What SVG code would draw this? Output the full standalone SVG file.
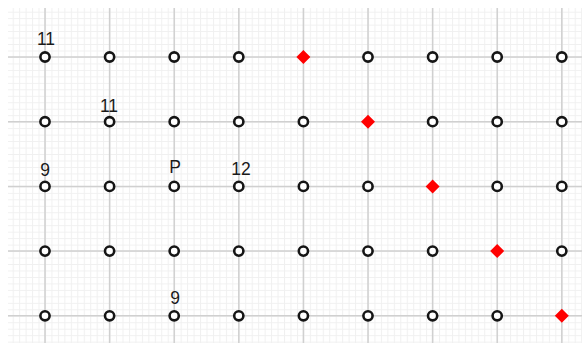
<svg xmlns="http://www.w3.org/2000/svg" width="582" height="343" viewBox="0 0 582 343">
  <style>
    .major { stroke: #d0d0d0; stroke-width: 1.5; fill: none; }
    .node circle { fill: #ffffff; stroke: #151515; stroke-width: 2.6; }
    .hit polygon { fill: #ff0000; }
    .lbl { font-family: "Liberation Sans", Arial, sans-serif; font-size: 17.5px; fill: #1a1a1a; text-anchor: middle; }
  </style>
  <defs>
    <pattern id="minor" x="45" y="57" width="6.46" height="6.47" patternUnits="userSpaceOnUse">
      <path d="M0 0.5 H6.46 M0.5 0 V6.47" stroke="#f0f0f0" stroke-width="1" fill="none"/>
    </pattern>
  </defs>
  <rect width="582" height="343" fill="#ffffff"/>
  <rect x="8" y="8" width="574" height="335" fill="url(#minor)"/>
  <g id="connectors" class="major">
    <path d="M8 57 H582 M8 121.7 H582 M8 186.4 H582 M8 251.1 H582 M8 315.8 H582"/>
    <path d="M45 8 V343 M109.6 8 V343 M174.2 8 V343 M238.8 8 V343 M303.4 8 V343 M368 8 V343 M432.6 8 V343 M497.2 8 V343 M561.8 8 V343"/>
  </g>
  <g id="nodes">
    <g id="r0" class="node">
      <circle cx="45" cy="57" r="4.6"/><circle cx="109.6" cy="57" r="4.6"/><circle cx="174.2" cy="57" r="4.6"/><circle cx="238.8" cy="57" r="4.6"/>
      <circle cx="368" cy="57" r="4.6"/><circle cx="432.6" cy="57" r="4.6"/><circle cx="497.2" cy="57" r="4.6"/><circle cx="561.8" cy="57" r="4.6"/>
    </g>
    <g id="r1" class="node">
      <circle cx="45" cy="121.7" r="4.6"/><circle cx="109.6" cy="121.7" r="4.6"/><circle cx="174.2" cy="121.7" r="4.6"/><circle cx="238.8" cy="121.7" r="4.6"/>
      <circle cx="303.4" cy="121.7" r="4.6"/><circle cx="432.6" cy="121.7" r="4.6"/><circle cx="497.2" cy="121.7" r="4.6"/><circle cx="561.8" cy="121.7" r="4.6"/>
    </g>
    <g id="r2" class="node">
      <circle cx="45" cy="186.4" r="4.6"/><circle cx="109.6" cy="186.4" r="4.6"/><circle cx="174.2" cy="186.4" r="4.6"/><circle cx="238.8" cy="186.4" r="4.6"/>
      <circle cx="303.4" cy="186.4" r="4.6"/><circle cx="368" cy="186.4" r="4.6"/><circle cx="497.2" cy="186.4" r="4.6"/><circle cx="561.8" cy="186.4" r="4.6"/>
    </g>
    <g id="r3" class="node">
      <circle cx="45" cy="251.1" r="4.6"/><circle cx="109.6" cy="251.1" r="4.6"/><circle cx="174.2" cy="251.1" r="4.6"/><circle cx="238.8" cy="251.1" r="4.6"/>
      <circle cx="303.4" cy="251.1" r="4.6"/><circle cx="368" cy="251.1" r="4.6"/><circle cx="432.6" cy="251.1" r="4.6"/><circle cx="561.8" cy="251.1" r="4.6"/>
    </g>
    <g id="r4" class="node">
      <circle cx="45" cy="315.8" r="4.6"/><circle cx="109.6" cy="315.8" r="4.6"/><circle cx="174.2" cy="315.8" r="4.6"/><circle cx="238.8" cy="315.8" r="4.6"/>
      <circle cx="303.4" cy="315.8" r="4.6"/><circle cx="368" cy="315.8" r="4.6"/><circle cx="432.6" cy="315.8" r="4.6"/><circle cx="497.2" cy="315.8" r="4.6"/>
    </g>
    <g id="diagonal" class="hit">
      <polygon points="303.4,50 310.4,57 303.4,64 296.4,57"/>
      <polygon points="368,114.7 375,121.7 368,128.7 361,121.7"/>
      <polygon points="432.6,179.4 439.6,186.4 432.6,193.4 425.6,186.4"/>
      <polygon points="497.2,244.1 504.2,251.1 497.2,258.1 490.2,251.1"/>
      <polygon points="561.8,308.8 568.8,315.8 561.8,322.8 554.8,315.8"/>
    </g>
  </g>
  <g id="labels">
    <text class="lbl" x="46" y="45">11</text>
    <text class="lbl" x="109" y="112">11</text>
    <text class="lbl" x="45" y="176">9</text>
    <text class="lbl" x="175" y="173">P</text>
    <text class="lbl" x="241" y="175">12</text>
    <text class="lbl" x="175" y="304">9</text>
  </g>
</svg>
